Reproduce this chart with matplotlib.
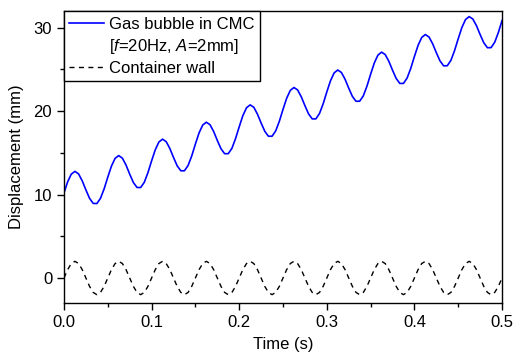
import numpy as np
import matplotlib
matplotlib.use("Agg")
import matplotlib.pyplot as plt
from matplotlib.lines import Line2D
from matplotlib.ticker import MultipleLocator

plt.rcParams['font.family'] = ['Liberation Sans', 'DejaVu Sans']
plt.rcParams['mathtext.fontset'] = 'custom'
plt.rcParams['mathtext.rm'] = 'Liberation Sans'
plt.rcParams['mathtext.it'] = 'Liberation Sans:italic'

# time samples (s), 12 per 20 Hz cycle, 0 .. 0.5 s
time_s = np.linspace(0.0, 0.5, 121)

# gas bubble displacement (mm)
bubble_mm = [
    10.20, 11.52, 12.45, 12.78, 12.47, 11.64, 10.56, 9.55, 8.94, 8.92, 9.55, 10.69,
    12.09, 13.41, 14.34, 14.67, 14.36, 13.53, 12.45, 11.45, 10.85, 10.84, 11.47, 12.63,
    14.04, 15.36, 16.30, 16.64, 16.34, 15.52, 14.45, 13.45, 12.85, 12.85, 13.49, 14.64,
    16.06, 17.39, 18.33, 18.67, 18.37, 17.56, 16.49, 15.50, 14.90, 14.90, 15.54, 16.71,
    18.12, 19.46, 20.40, 20.75, 20.46, 19.64, 18.58, 17.59, 16.99, 16.99, 17.63, 18.79,
    20.21, 21.54, 22.49, 22.83, 22.54, 21.72, 20.66, 19.67, 19.07, 19.07, 19.72, 20.88,
    22.30, 23.63, 24.58, 24.93, 24.63, 23.82, 22.76, 21.77, 21.18, 21.19, 21.83, 23.00,
    24.42, 25.76, 26.71, 27.07, 26.78, 25.97, 24.91, 23.92, 23.32, 23.32, 23.97, 25.13,
    26.55, 27.88, 28.83, 29.18, 28.88, 28.07, 27.01, 26.03, 25.43, 25.44, 26.09, 27.26,
    28.68, 30.02, 30.98, 31.33, 31.04, 30.24, 29.18, 28.20, 27.60, 27.61, 28.26, 29.43,
    30.85,
]

# container wall displacement (mm)
wall_mm = [
    0.0, 1.0, 1.73, 2.0, 1.73, 1.0, 0.0, -1.0, -1.73, -2.0, -1.73, -1.0,
    0.0, 1.0, 1.73, 2.0, 1.73, 1.0, 0.0, -1.0, -1.73, -2.0, -1.73, -1.0,
    0.0, 1.0, 1.73, 2.0, 1.73, 1.0, 0.0, -1.0, -1.73, -2.0, -1.73, -1.0,
    0.0, 1.0, 1.73, 2.0, 1.73, 1.0, 0.0, -1.0, -1.73, -2.0, -1.73, -1.0,
    0.0, 1.0, 1.73, 2.0, 1.73, 1.0, 0.0, -1.0, -1.73, -2.0, -1.73, -1.0,
    0.0, 1.0, 1.73, 2.0, 1.73, 1.0, 0.0, -1.0, -1.73, -2.0, -1.73, -1.0,
    0.0, 1.0, 1.73, 2.0, 1.73, 1.0, 0.0, -1.0, -1.73, -2.0, -1.73, -1.0,
    0.0, 1.0, 1.73, 2.0, 1.73, 1.0, 0.0, -1.0, -1.73, -2.0, -1.73, -1.0,
    0.0, 1.0, 1.73, 2.0, 1.73, 1.0, 0.0, -1.0, -1.73, -2.0, -1.73, -1.0,
    0.0, 1.0, 1.73, 2.0, 1.73, 1.0, 0.0, -1.0, -1.73, -2.0, -1.73, -1.0,
    0.0,
]

label_bubble = "Gas bubble in CMC"
label_bubble2 = "[$f$=20Hz, $A$=2mm]"
label_wall = "Container wall"
xlabel = "Time (s)"
ylabel = "Displacement (mm)"

fig = plt.figure(figsize=(5.14, 3.53), dpi=100)
ax = fig.add_axes([0.1245, 0.1416, 0.8522, 0.8272])

l1, = ax.plot(time_s, bubble_mm, color='#0000ff', lw=1.2)
l2, = ax.plot(time_s, wall_mm, color='black', lw=1.0, linestyle=(0, (3.6, 3.2)))

ax.set_xlim(0, 0.5)
ax.set_ylim(-3, 32)
ax.xaxis.set_major_locator(MultipleLocator(0.1))
ax.xaxis.set_minor_locator(MultipleLocator(0.05))
ax.yaxis.set_major_locator(MultipleLocator(10))
ax.yaxis.set_minor_locator(MultipleLocator(5))
ax.set_xticklabels([f"{v:.1f}" for v in ax.get_xticks()])
ax.tick_params(axis='both', which='major', direction='out', length=5, width=1,
               labelsize=12, colors='black', top=False, right=False)
ax.tick_params(axis='both', which='minor', direction='out', length=3, width=1,
               top=False, right=False)
for s in ax.spines.values():
    s.set_linewidth(1.0)
    s.set_color('black')

ax.set_xlabel(xlabel, fontsize=12, labelpad=5)
ax.set_ylabel(ylabel, fontsize=12, labelpad=7)

blank = Line2D([], [], color='none')
leg = ax.legend([l1, blank, l2], [label_bubble, label_bubble2, label_wall],
                loc='upper left', bbox_to_anchor=(0, 1), borderaxespad=0,
                fontsize=12, frameon=True, fancybox=False, edgecolor='black',
                framealpha=1, handlelength=2.1, handletextpad=0.3,
                labelspacing=0.3, borderpad=0.33)
leg.get_frame().set_linewidth(1.0)

fig.savefig("out.png", dpi=100, facecolor='white')
